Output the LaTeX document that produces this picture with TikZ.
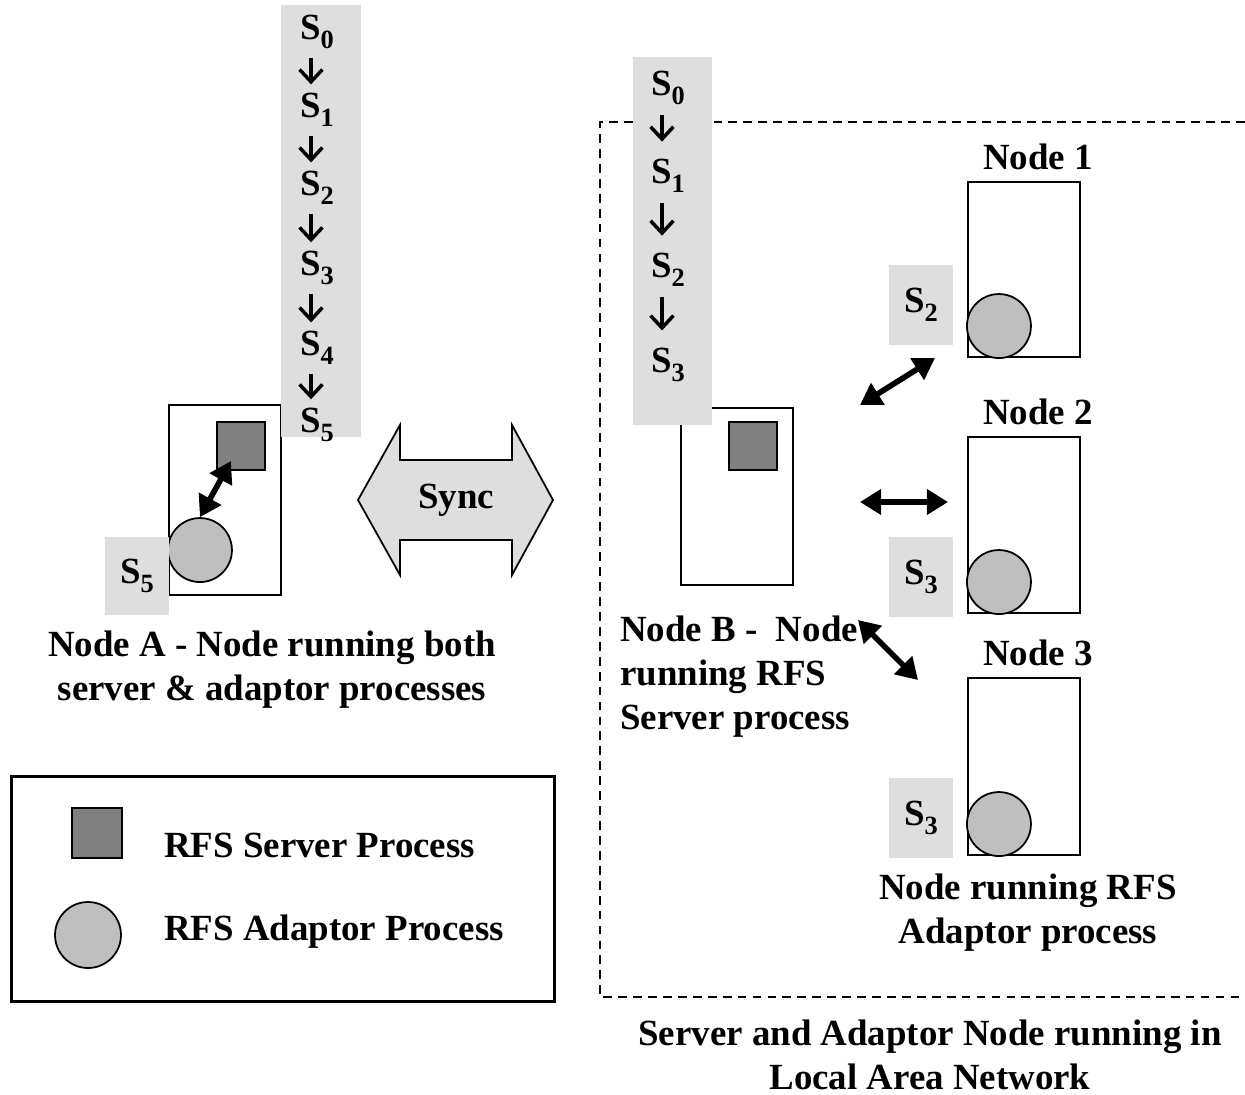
\documentclass[tikz,border=0pt]{standalone}
\usepackage{fontspec}
\setmainfont{Liberation Serif}
\usetikzlibrary{arrows.meta,positioning}
\newcommand{\sstate}[1]{S\raisebox{-0.5ex}{\fontsize{15}{15}\selectfont #1}}

\begin{document}
\begin{tikzpicture}[x=0.02cm,y=-0.02cm,node distance=2mm,
    every node/.style={font=\fontsize{21}{25}\selectfont\bfseries}]
  \useasboundingbox (0,0) rectangle (1245,1095);
  \tikzset{bar/.style={fill=black!13,inner sep=0pt},
    machine/.style={draw,line width=1.2pt,minimum width=2.24cm,inner sep=0pt},
    server/.style={draw,line width=1.2pt,fill=black!50,minimum size=0.96cm,inner sep=0pt},
    adaptor/.style={draw,circle,line width=1pt,fill=black!25,minimum size=1.28cm,inner sep=0pt},
    sbox/.style={fill=black!13,minimum width=1.28cm,minimum height=1.6cm,inner sep=0pt},
    slabel/.style={inner sep=1pt},
    sarrow/.style={line width=2pt,shorten <=4pt,shorten >=4pt,-{Straight Barb[length=7pt,width=13pt]}},
    dbl/.style={line width=3.2pt,{Triangle[length=12pt,width=14pt]}-{Triangle[length=12pt,width=14pt]}},
    lan/.style={line width=1pt,dash pattern=on 5pt off 3.5pt}}

  % local area network
  \draw[lan] (1245,122) -- (600,122) -- (600,997) -- (1245,997);

  % node A
  \node[machine,minimum height=3.8cm] (nodeA) at (225,500) {};
  \node[server,below left=0.34cm and 0.32cm of nodeA.north east] (srvA) {};
  \node[adaptor] (adA) at ([xshift=0.64cm,yshift=0.92cm]nodeA.south west) {};
  \node[sbox,minimum height=1.56cm] (sA) at (137,576) {\sstate{5}};
  \draw[dbl] (adA.north) -- ([xshift=0.3cm,yshift=0.2cm]srvA.south west);
  \node[bar,anchor=north west,minimum width=1.6cm,minimum height=8.64cm] (barA) at (281,5) {};
  \node[slabel] (a0) at (317,32) {\sstate{0}};
  \node[slabel] (a1) at (317,110) {\sstate{1}};
  \node[slabel] (a2) at (317,188) {\sstate{2}};
  \node[slabel] (a3) at (317,268) {\sstate{3}};
  \node[slabel] (a4) at (317,348) {\sstate{4}};
  \node[slabel] (a5) at (317,425) {\sstate{5}};
  \foreach \i/\j in {a0/a1,a1/a2,a2/a3,a3/a4,a4/a5}
    \draw[sarrow] ([xshift=-1.2mm]\i.south) -- ([xshift=-1.2mm]\j.north);
  \node[align=center] (capA) at (272,670) {Node A - Node running both\\server \& adaptor processes};

  % sync
  \draw[line width=1pt,fill=black!13] (358,500) -- (400,425) -- (400,460) -- (512,460)
    -- (512,425) -- (553,500) -- (512,575) -- (512,540) -- (400,540) -- (400,575) -- cycle;
  \node (sync) at (456,500) {Sync};

  % node B
  \node[machine,minimum height=3.54cm] (nodeB) at (737,496.5) {};
  \node[server,below left=0.28cm and 0.32cm of nodeB.north east] (srvB) {};
  \node[bar,anchor=north west,minimum width=1.58cm,minimum height=7.36cm] (barB) at (633,57) {};
  \node[slabel] (b0) at (668,88) {\sstate{0}};
  \node[slabel] (b1) at (668,176) {\sstate{1}};
  \node[slabel] (b2) at (668,270) {\sstate{2}};
  \node[slabel] (b3) at (668,365) {\sstate{3}};
  \foreach \i/\j in {b0/b1,b1/b2,b2/b3}
    \draw[sarrow,shorten <=5pt,shorten >=9pt] ([xshift=-1.2mm]\i.south) -- ([xshift=-1.2mm]\j.north);
  \node[align=left,anchor=west] (capB) at (614,677) {Node B -\ \ Node\\running RFS\\Server process};

  % adaptor nodes
  \node[machine,minimum height=3.5cm] (n1) at (1024,269.5) {};
  \node[machine,minimum height=3.52cm] (n2) at (1024,525) {};
  \node[machine,minimum height=3.54cm] (n3) at (1024,766.5) {};
  \foreach \n/\t in {n1/1,n2/2,n3/3}{
    \node[above=1mm of \n,xshift=0.28cm] (t\t) {Node \t};
    \node[adaptor] (ad\t) at ([xshift=0.64cm,yshift=0.64cm]\n.south west) {};
  }
  \node[sbox] (s1) at (921,305) {\sstate{2}};
  \node[sbox] (s2) at (921,577) {\sstate{3}};
  \node[sbox] (s3) at (921,818) {\sstate{3}};
  \coordinate (p1) at (860,405); \coordinate (q1) at (935,358);
  \coordinate (p2) at (860,502); \coordinate (q2) at (948,502);
  \coordinate (p3) at (858,620); \coordinate (q3) at (918,680);
  \draw[dbl] (p1) -- (q1);
  \draw[dbl] (p2) -- (q2);
  \draw[dbl] (p3) -- (q3);
  \node[align=center] (capN) at (1028,913) {Node running RFS\\Adaptor process};
  \node[align=center] (capLAN) at (930,1055) {Server and Adaptor Node running in\\Local Area Network};

  % legend
  \node[draw,line width=1.8pt,anchor=north west,minimum width=10.86cm,minimum height=4.5cm] (legend) at (10,775) {};
  \node[server,minimum size=1cm] (lsrv) at (97,833) {};
  \node[adaptor,minimum size=1.32cm] (lad) at (88,935) {};
  \node[anchor=west] (lsrvtxt) at (158,845) {RFS Server Process};
  \node[anchor=west] (ladtxt) at (158,932) {RFS Adaptor Process};
\end{tikzpicture}
\end{document}
